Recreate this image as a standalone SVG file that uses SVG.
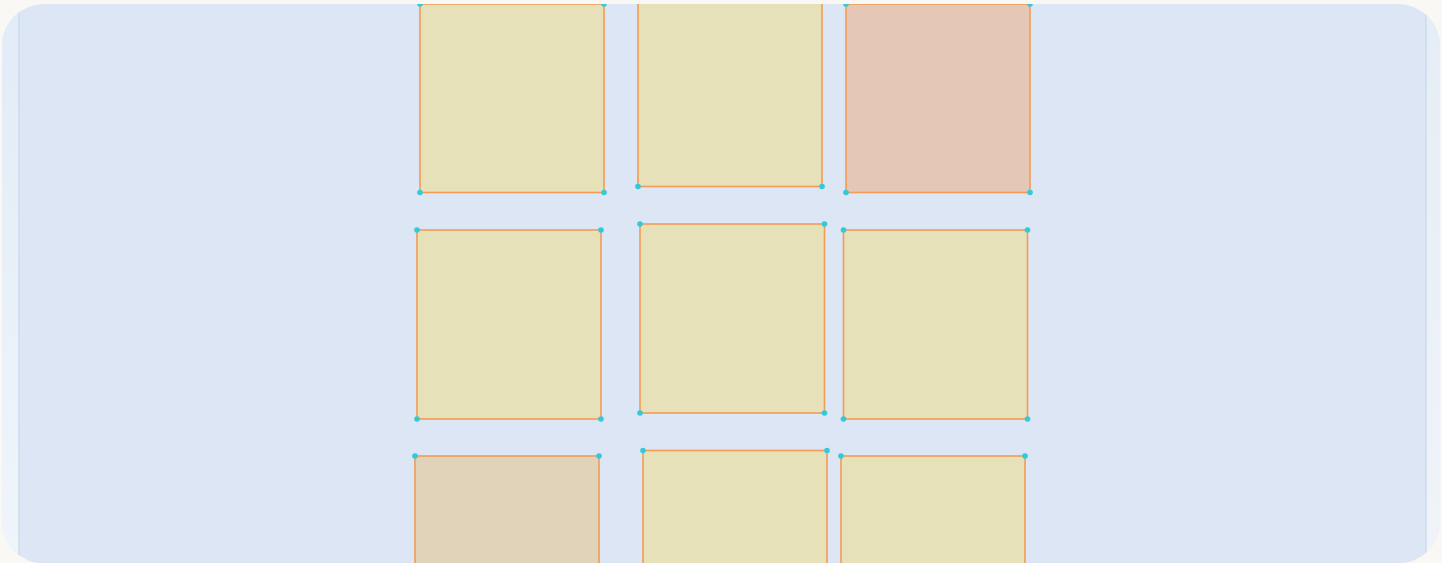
<svg xmlns="http://www.w3.org/2000/svg" width="1442" height="563" viewBox="0 0 1442 563">
  <defs>
    <clipPath id="panelClip">
      <rect x="2" y="4" width="1438" height="559.5" rx="42" ry="42"/>
    </clipPath>
    <linearGradient id="sideL" x1="0" y1="0" x2="0" y2="1">
      <stop offset="0" stop-color="#e2ebf8"/>
      <stop offset="1" stop-color="#eff5fa"/>
    </linearGradient>
    <linearGradient id="sideR" x1="0" y1="0" x2="0" y2="1">
      <stop offset="0" stop-color="#e5edf6"/>
      <stop offset="1" stop-color="#f0f4f9"/>
    </linearGradient>
    <style>
      .sq { stroke: #f39c52; stroke-width: 1.6; }
      .y { fill: #e6e1b9; }
      .s { fill: #e5c7b5; }
      .t { fill: #e1d3b9; }
      .dot { fill: #33c9d9; }
      .edge { stroke: #c8d8ec; stroke-width: 1.2; }
    </style>
  </defs>
  <rect x="0" y="0" width="1442" height="563" fill="#f9f8f4"/>
  <g clip-path="url(#panelClip)">
    <g id="panel">
      <rect x="2" y="4" width="1438" height="560" fill="#dce6f4"/>
      <rect x="2" y="4" width="17" height="560" fill="url(#sideL)"/>
      <rect x="1426" y="4" width="14" height="560" fill="url(#sideR)"/>
      <line class="edge" x1="19" y1="4" x2="19" y2="563"/>
      <line class="edge" x1="1426" y1="4" x2="1426" y2="563"/>
    </g>
    <g id="tile-a">
      <rect class="sq y" x="420" y="4" width="184" height="188.5"/>
      <circle class="dot" cx="420" cy="4" r="2.8"/><circle class="dot" cx="604" cy="4" r="2.8"/>
      <circle class="dot" cx="420" cy="192.5" r="2.8"/><circle class="dot" cx="604" cy="192.5" r="2.8"/>
    </g>
    <g id="tile-b">
      <rect class="sq y" x="638" y="-2" width="184" height="188.5"/>
      <circle class="dot" cx="638" cy="186.5" r="2.8"/><circle class="dot" cx="822" cy="186.5" r="2.8"/>
    </g>
    <g id="tile-c">
      <rect class="sq s" x="846" y="4" width="184" height="188.5"/>
      <circle class="dot" cx="846" cy="4" r="2.8"/><circle class="dot" cx="1030" cy="4" r="2.8"/>
      <circle class="dot" cx="846" cy="192.5" r="2.8"/><circle class="dot" cx="1030" cy="192.5" r="2.8"/>
    </g>
    <g id="tile-d">
      <rect class="sq y" x="417" y="230" width="184" height="189"/>
      <circle class="dot" cx="417" cy="230" r="2.8"/><circle class="dot" cx="601" cy="230" r="2.8"/>
      <circle class="dot" cx="417" cy="419" r="2.8"/><circle class="dot" cx="601" cy="419" r="2.8"/>
    </g>
    <g id="tile-e">
      <rect class="sq y" x="640" y="224" width="184.5" height="189"/>
      <circle class="dot" cx="640" cy="224" r="2.8"/><circle class="dot" cx="824.5" cy="224" r="2.8"/>
      <circle class="dot" cx="640" cy="413" r="2.8"/><circle class="dot" cx="824.5" cy="413" r="2.8"/>
    </g>
    <g id="tile-f">
      <rect class="sq y" x="843.5" y="230" width="184" height="189"/>
      <circle class="dot" cx="843.5" cy="230" r="2.8"/><circle class="dot" cx="1027.5" cy="230" r="2.8"/>
      <circle class="dot" cx="843.5" cy="419" r="2.8"/><circle class="dot" cx="1027.5" cy="419" r="2.8"/>
    </g>
    <g id="tile-g">
      <rect class="sq t" x="415" y="456" width="184" height="189"/>
      <circle class="dot" cx="415" cy="456" r="2.8"/><circle class="dot" cx="599" cy="456" r="2.8"/>
    </g>
    <g id="tile-h">
      <rect class="sq y" x="643" y="450.5" width="184" height="189"/>
      <circle class="dot" cx="643" cy="450.5" r="2.8"/><circle class="dot" cx="827" cy="450.5" r="2.8"/>
    </g>
    <g id="tile-i">
      <rect class="sq y" x="841" y="456" width="184" height="189"/>
      <circle class="dot" cx="841" cy="456" r="2.8"/><circle class="dot" cx="1025" cy="456" r="2.8"/>
    </g>
  </g>
  <g id="connectors"/>
</svg>
